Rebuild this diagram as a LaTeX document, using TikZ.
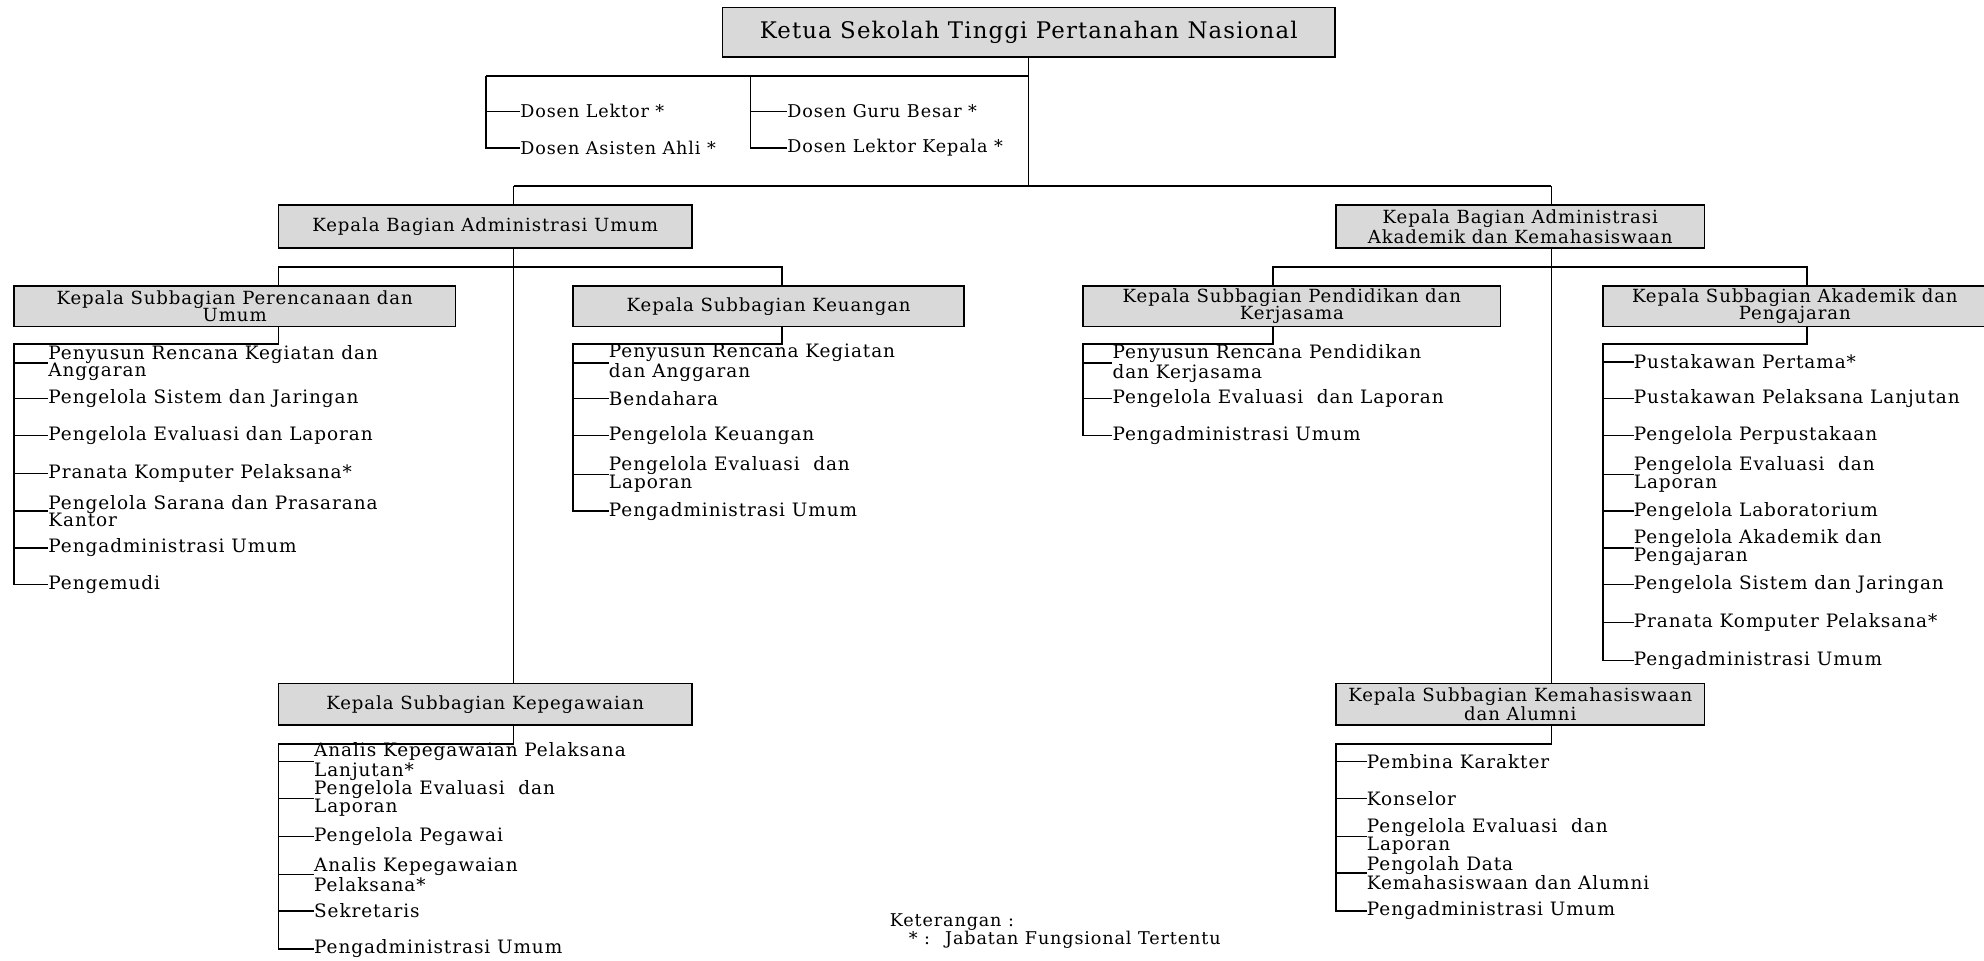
\documentclass[tikz,border=0pt]{standalone}
\usepackage{fontspec}
\setmainfont{DejaVu Serif}[LetterSpace=5]
\usepackage{tikz}
\usetikzlibrary{positioning, calc}
\definecolor{boxgray}{RGB}{217,217,217}
\tikzset{
  headbox/.style={rectangle, draw=black, fill=boxgray, line width=0.9pt,
    align=center, inner sep=1pt, font=\fontsize{10.3}{10.1}\selectfont},
  item/.style={anchor=west, align=left, inner sep=0pt,
    font=\fontsize{10.5}{10.1}\selectfont},
  link/.style={line width=0.8pt}
}

\begin{document}
\begin{tikzpicture}[x=0.0253cm, y=-0.0253cm]
  \useasboundingbox (0,0) rectangle (1568,759);

  % heads
  \node[headbox, minimum width=12.25cm, minimum height=0.99cm,
    font=\fontsize{13}{14}\selectfont] (ketua) at (813,25.5)
    {Ketua Sekolah Tinggi Pertanahan Nasional};
  \node[headbox, minimum width=8.27cm, minimum height=0.86cm] (kbau) at (383.5,179)
    {Kepala Bagian Administrasi Umum};
  \node[headbox, minimum width=7.36cm, minimum height=0.86cm] (kbaak) at (1201.5,179)
    {Kepala Bagian Administrasi\\Akademik dan Kemahasiswaan};
  \node[headbox, minimum width=8.83cm, minimum height=0.81cm] (ksPU) at (185.5,242)
    {Kepala Subbagian Perencanaan dan\\Umum};
  \node[headbox, minimum width=7.82cm, minimum height=0.81cm] (ksK) at (607.5,242)
    {Kepala Subbagian Keuangan};
  \node[headbox, minimum width=8.35cm, minimum height=0.81cm] (ksPK) at (1021,242)
    {Kepala Subbagian Pendidikan dan\\Kerjasama};
  \node[headbox, minimum width=7.67cm, minimum height=0.81cm] (ksAP) at (1418.5,242)
    {Kepala Subbagian Akademik dan\\Pengajaran};
  \node[headbox, minimum width=8.27cm, minimum height=0.83cm] (ksKp) at (383.5,556.5)
    {Kepala Subbagian Kepegawaian};
  \node[headbox, minimum width=7.36cm, minimum height=0.83cm] (ksKM) at (1201.5,556.5)
    {Kepala Subbagian Kemahasiswaan\\dan Alumni};

  % dosen
  \node[item, font=\fontsize{10}{10.1}\selectfont] (dl) at (411,88) {Dosen Lektor *};
  \node[item, font=\fontsize{10}{10.1}\selectfont] (daa) at (411,117) {Dosen Asisten Ahli *};
  \node[item, font=\fontsize{10}{10.1}\selectfont] (dgb) at (622,88) {Dosen Guru Besar *};
  \node[item, font=\fontsize{10}{10.1}\selectfont] (dlk) at (622,117) {Dosen Lektor Kepala *};

  % Perencanaan dan Umum
  \node[item] (pu1) at (38,287) {Penyusun Rencana Kegiatan dan\\Anggaran};
  \node[item] (pu2) at (38,315) {Pengelola Sistem dan Jaringan};
  \node[item] (pu3) at (38,344) {Pengelola Evaluasi dan Laporan};
  \node[item] (pu4) at (38,374) {Pranata Komputer Pelaksana*};
  \node[item] (pu5) at (38,404) {Pengelola Sarana dan Prasarana\\Kantor};
  \node[item] (pu6) at (38,433) {Pengadministrasi Umum};
  \node[item] (pu7) at (38,462) {Pengemudi};

  % Keuangan
  \node[item] (ku1) at (481,287) {Penyusun Rencana Kegiatan\\dan Anggaran};
  \node[item] (ku2) at (481,315) {Bendahara};
  \node[item] (ku3) at (481,344) {Pengelola Keuangan};
  \node[item] (ku4) at (481,375) {Pengelola Evaluasi~ dan\\Laporan};
  \node[item] (ku5) at (481,404) {Pengadministrasi Umum};

  % Kepegawaian
  \node[item] (kp1) at (248,602) {Analis Kepegawaian Pelaksana\\Lanjutan*};
  \node[item] (kp2) at (248,631) {Pengelola Evaluasi~ dan\\Laporan};
  \node[item] (kp3) at (248,661) {Pengelola Pegawai};
  \node[item] (kp4) at (248,691) {Analis Kepegawaian\\Pelaksana*};
  \node[item] (kp5) at (248,720) {Sekretaris};
  \node[item] (kp6) at (248,750) {Pengadministrasi Umum};

  % Pendidikan dan Kerjasama
  \node[item] (pk1) at (879,287) {Penyusun Rencana Pendidikan\\dan Kerjasama};
  \node[item] (pk2) at (879,315) {Pengelola Evaluasi~ dan Laporan};
  \node[item] (pk3) at (879,344) {Pengadministrasi Umum};

  % Akademik dan Pengajaran
  \node[item] (ap1) at (1291,286) {Pustakawan Pertama*};
  \node[item] (ap2) at (1291,315) {Pustakawan Pelaksana Lanjutan};
  \node[item] (ap3) at (1291,344) {Pengelola Perpustakaan};
  \node[item] (ap4) at (1291,375) {Pengelola Evaluasi~ dan\\Laporan};
  \node[item] (ap5) at (1291,404) {Pengelola Laboratorium};
  \node[item] (ap6) at (1291,433) {Pengelola Akademik dan\\Pengajaran};
  \node[item] (ap7) at (1291,462) {Pengelola Sistem dan Jaringan};
  \node[item] (ap8) at (1291,492) {Pranata Komputer Pelaksana*};
  \node[item] (ap9) at (1291,522) {Pengadministrasi Umum};

  % Kemahasiswaan dan Alumni
  \node[item] (km1) at (1080,602) {Pembina Karakter};
  \node[item] (km2) at (1080,631) {Konselor};
  \node[item] (km3) at (1080,661) {Pengelola Evaluasi~ dan\\Laporan};
  \node[item] (km4) at (1080,690) {Pengolah Data\\Kemahasiswaan dan Alumni};
  \node[item] (km5) at (1080,720) {Pengadministrasi Umum};

  % keterangan
  \node[item, font=\fontsize{10}{10.1}\selectfont] (ket) at (703,729) {Keterangan :};
  \node[item, font=\fontsize{10}{10.1}\selectfont] (ket2) at (718,743) {* :~ Jabatan Fungsional Tertentu};

  % connectors
  \coordinate (dsL) at (384,60);
  \coordinate (dsR) at (593,60);
  \coordinate (bL) at (406,147);
  \coordinate (bR) at (1226,147);
  \draw[link] (ketua.south) -- (ketua.south |- bL);
  \draw[link] (dsL) -- (ketua.south |- dsL);
  \draw[link] (dsL) |- (daa.west);
  \draw[link] (dsL |- dl.west) -- (dl.west);
  \draw[link] (dsR) |- (dlk.west);
  \draw[link] (dsR |- dgb.west) -- (dgb.west);
  \draw[link] (bL) -- (bR);
  \draw[link] (bL) -- (bL |- kbau.north);
  \draw[link] (bL |- kbau.south) -- (bL |- ksKp.north);
  \draw[link] (bR) -- (bR |- kbaak.north);
  \draw[link] (bR |- kbaak.south) -- (bR |- ksKM.north);

  \coordinate (lb1) at (220,211);
  \coordinate (lb2) at (618,211);
  \draw[link] (lb1 |- ksPU.north) -- (lb1) -- (lb2) -- (lb2 |- ksK.north);
  \coordinate (rb1) at (1006,211);
  \coordinate (rb2) at (1428,211);
  \draw[link] (rb1 |- ksPK.north) -- (rb1) -- (rb2) -- (rb2 |- ksAP.north);

  % lists
  \coordinate (puS) at (11,272);
  \draw[link] (lb1 |- ksPU.south) -- (lb1 |- puS) -- (puS) |- (pu7.west);
  \foreach \n in {1,...,6} \draw[link] (puS |- pu\n.west) -- (pu\n.west);

  \coordinate (kuS) at (453,272);
  \draw[link] (lb2 |- ksK.south) -- (lb2 |- kuS) -- (kuS) |- (ku5.west);
  \foreach \n in {1,...,4} \draw[link] (kuS |- ku\n.west) -- (ku\n.west);

  \coordinate (kpS) at (220,588);
  \draw[link] (bL |- ksKp.south) -- (bL |- kpS) -- (kpS) |- (kp6.west);
  \foreach \n in {1,...,5} \draw[link] (kpS |- kp\n.west) -- (kp\n.west);

  \coordinate (pkS) at (856,272);
  \draw[link] (rb1 |- ksPK.south) -- (rb1 |- pkS) -- (pkS) |- (pk3.west);
  \foreach \n in {1,2} \draw[link] (pkS |- pk\n.west) -- (pk\n.west);

  \coordinate (apS) at (1267,272);
  \draw[link] (rb2 |- ksAP.south) -- (rb2 |- apS) -- (apS) |- (ap9.west);
  \foreach \n in {1,...,8} \draw[link] (apS |- ap\n.west) -- (ap\n.west);

  \coordinate (kmS) at (1056,588);
  \draw[link] (bR |- ksKM.south) -- (bR |- kmS) -- (kmS) |- (km5.west);
  \foreach \n in {1,...,4} \draw[link] (kmS |- km\n.west) -- (km\n.west);
\end{tikzpicture}
\end{document}
